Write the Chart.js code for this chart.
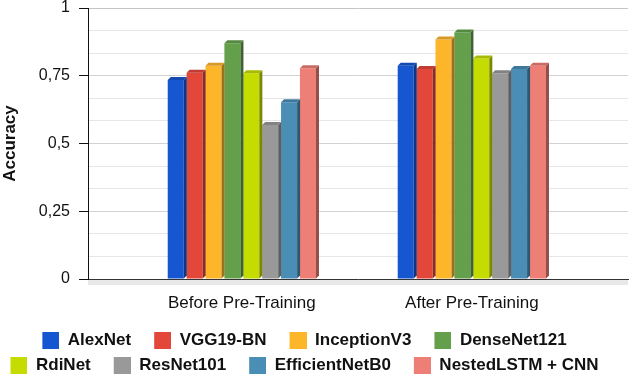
<!DOCTYPE html>
<html lang="en">
<head>
<meta charset="UTF-8">
<title>Accuracy before and after pre-training</title>
<script src="https://cdn.jsdelivr.net/npm/chart.js"></script>
<style>
  html, body { margin: 0; padding: 0; background: #fff; overflow: hidden; }
  .chart-box { width: 630px; height: 377px; }
</style>
</head>
<body>
<div class="chart-box"><canvas id="chart"></canvas></div>
<script>
// groups on the x axis and one series per model
const groups = ['Before Pre-Training', 'After Pre-Training'];
const models = ['AlexNet', 'VGG19-BN', 'InceptionV3', 'DenseNet121', 'RdiNet', 'ResNet101', 'EfficientNetB0', 'NestedLSTM + CNN'];
const beforeAcc = [0.734, 0.761, 0.787, 0.870, 0.759, 0.568, 0.652, 0.778];
const afterAcc  = [0.787, 0.775, 0.884, 0.910, 0.814, 0.759, 0.775, 0.787];
const colors = ['#1656d0', '#e3473a', '#fdb52a', '#64a04c', '#c5dc00', '#999999', '#4a8db5', '#ee7f77'];

Chart.defaults.font.family = "'Liberation Sans', Arial, sans-serif";
Chart.defaults.color = '#111';

function shade(hex, f) {
    const n = parseInt(hex.slice(1), 16);
    const r = Math.round(((n >> 16) & 255) * f);
    const g = Math.round(((n >> 8) & 255) * f);
    const b = Math.round((n & 255) * f);
    return `rgb(${r},${g},${b})`;
}

// legend swatch: blank space on the left, square on the right
function swatch(color) {
    const c = document.createElement('canvas');
    c.width = 32; c.height = 17;
    const g = c.getContext('2d');
    g.fillStyle = color;
    g.fillRect(15, 0, 17, 17);
    return c;
}
const swatches = colors.map(swatch);

// fake 3D look: floor under the axis, top and side faces on each bar
const bars3d = {
    id: 'bars3d',
    afterLayout(chart) {
        // nudge the legend a bit left and down
        const lg = chart.legend;
        lg.left -= 17; lg.right -= 17;
        lg.top += 7; lg.bottom += 7;
    },
    beforeDatasetsDraw(chart) {
        const {ctx, chartArea} = chart;
        ctx.save();
        ctx.fillStyle = '#e8e8e8';
        ctx.fillRect(chartArea.left, chartArea.bottom + 1, chartArea.right - chartArea.left, 5);
        ctx.restore();
    },
    afterDatasetsDraw(chart) {
        const ctx = chart.ctx;
        const d = 3;
        ctx.save();
        chart.data.datasets.forEach((ds, i) => {
            chart.getDatasetMeta(i).data.forEach(bar => {
                const {x, y, base, width} = bar.getProps(['x', 'y', 'base', 'width'], true);
                const l = x - width / 2, r = x + width / 2;
                ctx.fillStyle = shade(ds.backgroundColor, 0.62);
                ctx.beginPath();
                ctx.moveTo(r, y); ctx.lineTo(r + d, y - d); ctx.lineTo(r + d, base - d); ctx.lineTo(r, base);
                ctx.closePath(); ctx.fill();
                ctx.fillStyle = shade(ds.backgroundColor, 0.85);
                ctx.beginPath();
                ctx.moveTo(l, y); ctx.lineTo(l + d, y - d); ctx.lineTo(r + d, y - d); ctx.lineTo(r, y);
                ctx.closePath(); ctx.fill();
            });
        });
        ctx.restore();
    }
};

const datasets = models.map((name, i) => ({
    label: name,
    data: [{x: 0, y: beforeAcc[i]}, {x: 1, y: afterAcc[i]}],
    backgroundColor: colors[i],
    borderWidth: 0,
    categoryPercentage: 0.657,
    barPercentage: 0.85
}));

new Chart(document.getElementById('chart'), {
    type: 'bar',
    data: { datasets: datasets },
    plugins: [bars3d],
    options: {
        responsive: true,
        maintainAspectRatio: false,
        animation: false,
        layout: { padding: { top: 0, right: 2, left: 0, bottom: 0 } },
        plugins: {
            tooltip: { enabled: false },
            legend: {
                position: 'bottom',
                labels: {
                    font: { size: 17, weight: 'bold' },
                    color: '#111',
                    usePointStyle: true,
                    pointStyleWidth: 32,
                    padding: 8,
                    generateLabels(chart) {
                        const items = Chart.defaults.plugins.legend.labels.generateLabels(chart);
                        items.forEach((it, i) => { it.pointStyle = swatches[i]; });
                        return items;
                    }
                }
            }
        },
        scales: {
            x: {
                type: 'linear',
                offset: false,
                bounds: 'data',
                min: -0.669,
                max: 1.679,
                afterBuildTicks: axis => { axis.ticks = groups.map((g, i) => ({ value: i })); },
                afterFit: scale => { scale.height = 38; },
                grid: { drawOnChartArea: false, drawTicks: false },
                border: { color: '#333', width: 1 },
                ticks: {
                    autoSkip: false,
                    maxRotation: 0,
                    padding: 9,
                    font: { size: 17, lineHeight: 1.75 },
                    color: '#111',
                    callback: v => groups[v] ?? ''
                }
            },
            y: {
                min: 0,
                max: 1,
                afterBuildTicks: axis => {
                    const t = [];
                    for (let i = 0; i <= 12; i++) t.push({ value: i / 12 });
                    axis.ticks = t;
                },
                afterFit: scale => {
                    scale.width = 88;
                    scale.paddingTop = 8;
                    scale.paddingBottom = 8;
                },
                border: { color: '#111', width: 1 },
                grid: {
                    tickLength: 9,
                    color: c => c.index === 12 ? '#c4c4c4' : (c.index % 3 === 0 ? '#d2d2d2' : '#e6e6e6'),
                    tickColor: c => c.index % 3 === 0 ? '#111' : 'rgba(0,0,0,0)'
                },
                ticks: {
                    padding: 9,
                    font: { size: 16, lineHeight: 1 },
                    color: '#111',
                    callback: (v, i) => i % 3 === 0 ? String(+(i / 12).toFixed(2)).replace('.', ',') : ''
                },
                title: {
                    display: true,
                    text: 'Accuracy',
                    font: { size: 17, weight: 'bold' },
                    color: '#111',
                    padding: 0
                }
            }
        }
    }
});
</script>
</body>
</html>
